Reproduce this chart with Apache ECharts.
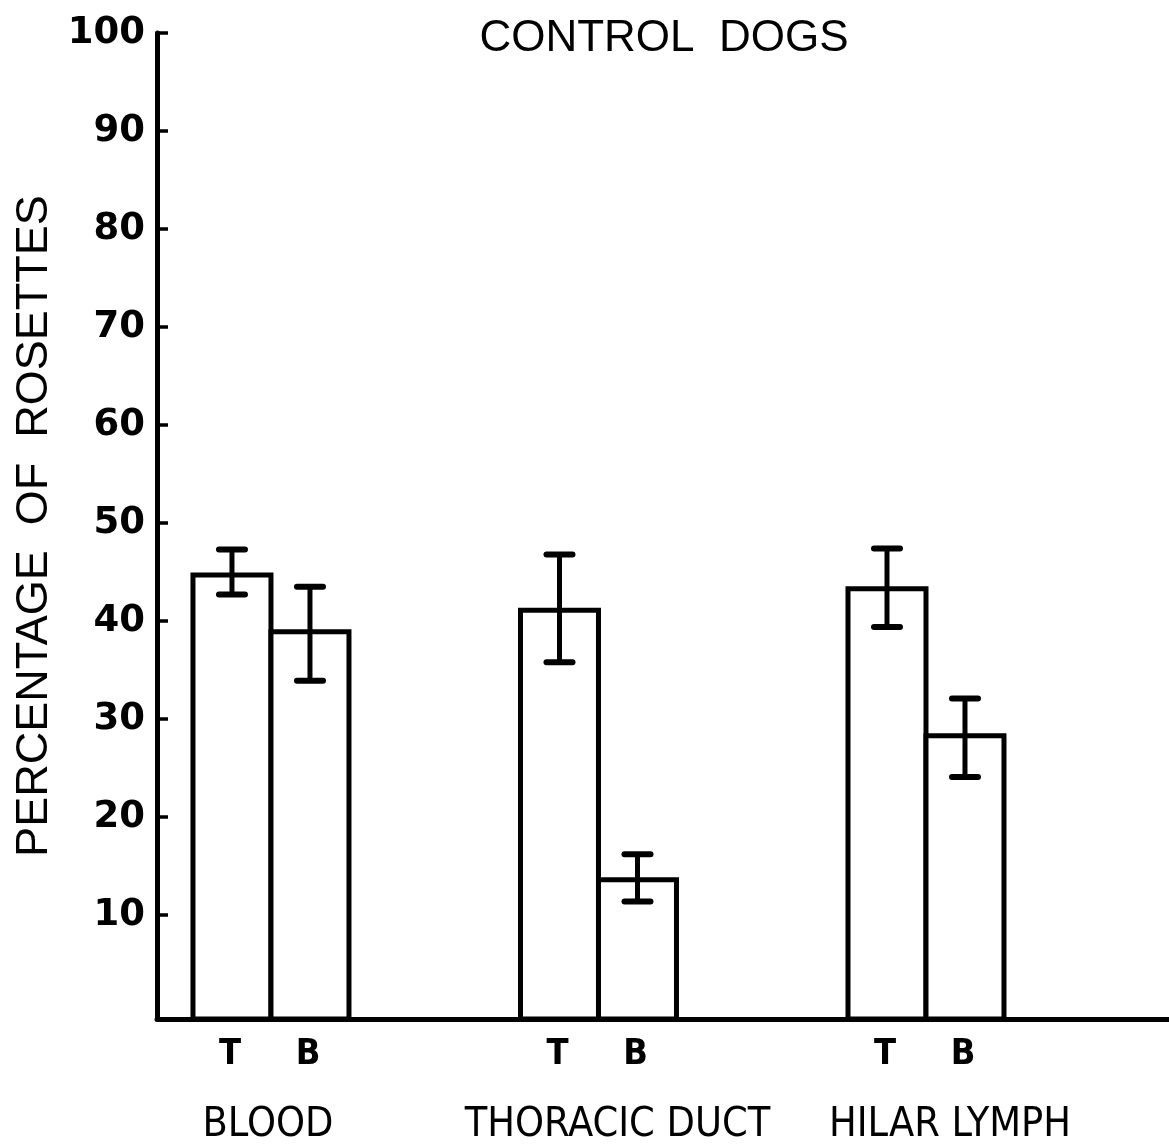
<!DOCTYPE html>
<html>
<head>
<meta charset="utf-8">
<script src="https://cdn.jsdelivr.net/npm/echarts@6/dist/echarts.min.js"></script>
<style>
html,body{margin:0;padding:0;background:#fff;}
#chart{width:1169px;height:1148px;}
</style>
</head>
<body>
<div id="chart"></div>
<script>
// ---- data ----
const groups = ["BLOOD", "THORACIC DUCT", "HILAR LYMPH"];
const cellTypes = ["T", "B"];
const tMeans = [44.7, 41.1, 43.3];
const tLow   = [42.7, 35.8, 39.4];
const tHigh  = [47.3, 46.8, 47.4];
const bMeans = [38.9, 13.6, 28.3];
const bLow   = [33.9, 11.4, 24.1];
const bHigh  = [43.5, 16.2, 32.1];
const yTicks = [10, 20, 30, 40, 50, 60, 70, 80, 90, 100];

// ---- style ----
const Y_MIN = -0.6, Y_MAX = 100;
const BAR_W = 78;
const CAP_W = 26;
const INK = '#000';
const nameOffsets = [-3, 19, 24];

const barData = [];
groups.forEach((g, i) => {
  barData.push([i, 0, tMeans[i], tLow[i], tHigh[i]]);
  barData.push([i, 1, bMeans[i], bLow[i], bHigh[i]]);
});
const nameData = groups.map((g, i) => [i, 0]);

const chart = echarts.init(document.getElementById('chart'), null, {renderer: 'canvas'});
chart.setOption({
  backgroundColor: '#fff',
  animation: false,
  title: {
    text: 'CONTROL  DOGS',
    left: 659, top: 12,
    textAlign: 'center',
    textStyle: {fontFamily: "'Liberation Sans', Arial, sans-serif", fontSize: 44, fontWeight: 'normal', color: INK}
  },
  grid: {left: 157, right: 0, top: 33, bottom: 129},
  xAxis: {
    type: 'value', min: -0.348, max: 2.742,
    axisLine: {show: true, onZero: false, lineStyle: {color: INK, width: 5}},
    axisTick: {show: false}, axisLabel: {show: false}, splitLine: {show: false}
  },
  yAxis: {
    type: 'value', min: Y_MIN, max: Y_MAX,
    name: 'PERCENTAGE  OF  ROSETTES',
    nameLocation: 'middle', nameGap: 88, nameRotate: 90,
    nameTextStyle: {fontFamily: "'Liberation Sans', Arial, sans-serif", fontSize: 45, color: INK},
    axisLine: {show: true, onZero: false, lineStyle: {color: INK, width: 5}},
    axisTick: {show: true, inside: true, length: 11, customValues: yTicks, lineStyle: {color: INK, width: 3.5}},
    axisLabel: {show: true, customValues: yTicks, margin: 12, fontFamily: "'DejaVu Sans', sans-serif", fontSize: 37, fontWeight: 'bold', color: INK},
    splitLine: {show: false}
  },
  series: [
    {
      type: 'custom',
      data: barData,
      clip: false,
      renderItem: function (params, api) {
        const gi = api.value(0), sub = api.value(1);
        const base = api.coord([gi, Y_MIN]);
        const top = api.coord([gi, api.value(2)]);
        const lo = api.coord([gi, api.value(3)]);
        const hi = api.coord([gi, api.value(4)]);
        const x0 = sub === 0 ? base[0] - BAR_W : base[0];
        const cx = x0 + BAR_W / 2;
        return {
          type: 'group',
          children: [
            {type: 'rect', shape: {x: x0, y: top[1], width: BAR_W, height: base[1] - top[1]},
             style: {fill: '#fff', stroke: INK, lineWidth: 5}},
            {type: 'line', shape: {x1: cx, y1: lo[1], x2: cx, y2: hi[1]}, style: {stroke: INK, lineWidth: 5}},
            {type: 'line', shape: {x1: cx - CAP_W / 2, y1: lo[1], x2: cx + CAP_W / 2, y2: lo[1]}, style: {stroke: INK, lineWidth: 6, lineCap: 'round'}},
            {type: 'line', shape: {x1: cx - CAP_W / 2, y1: hi[1], x2: cx + CAP_W / 2, y2: hi[1]}, style: {stroke: INK, lineWidth: 6, lineCap: 'round'}},
            {type: 'text', style: {text: cellTypes[sub], x: cx - 2, y: base[1] + 36, textAlign: 'center', textVerticalAlign: 'middle',
              font: "bold 36px 'Liberation Sans Narrow', 'DejaVu Sans Condensed', sans-serif", fill: INK}}
          ]
        };
      }
    },
    {
      type: 'custom',
      data: nameData,
      clip: false,
      renderItem: function (params, api) {
        const gi = api.value(0);
        const p = api.coord([gi, Y_MIN]);
        return {type: 'text', style: {text: groups[gi], x: p[0] + nameOffsets[gi], y: p[1] + 106,
          textAlign: 'center', textVerticalAlign: 'middle',
          font: "41px 'Liberation Sans Narrow', 'DejaVu Sans Condensed', sans-serif", fill: INK}};
      }
    }
  ]
});
</script>
</body>
</html>
